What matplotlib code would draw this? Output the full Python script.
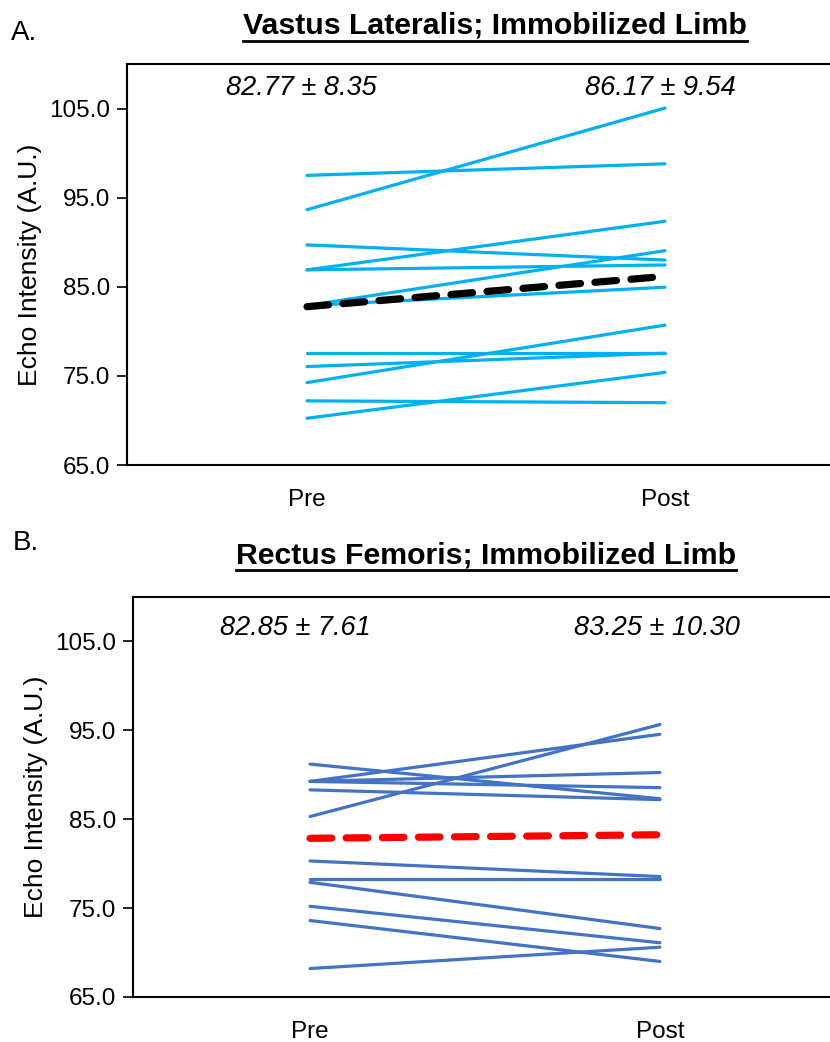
import matplotlib
matplotlib.use("Agg")
import matplotlib.pyplot as plt
from matplotlib.lines import Line2D

# ---- data ----
categories = ["Pre", "Post"]
yticks = [65.0, 75.0, 85.0, 95.0, 105.0]

vl_pre = [97.5, 93.65, 89.7, 86.9, 86.9, 82.9, 82.9, 77.55, 76.05, 74.25, 72.2, 70.25]
vl_post = [98.8, 105.05, 88.0, 92.35, 87.45, 89.05, 84.95, 77.55, 77.55, 80.7, 72.0, 75.4]
vl_mean = [82.77, 86.17]
vl_sd = [8.35, 9.54]

rf_pre = [91.2, 89.25, 89.25, 89.25, 88.3, 85.3, 80.3, 78.25, 77.9, 75.2, 73.6, 68.2]
rf_post = [87.3, 94.55, 90.25, 88.55, 87.2, 95.65, 78.55, 78.25, 72.7, 71.1, 69.0, 70.6]
rf_mean = [82.85, 83.25]
rf_sd = [7.61, 10.30]

NARROW = ["Liberation Sans Narrow", "Arial Narrow", "Liberation Sans", "DejaVu Sans"]
ARIAL = ["Liberation Sans", "DejaVu Sans"]

fig = plt.figure(figsize=(8.30, 10.42), dpi=100)


def panel(rect, xlim, pre, post, mean, sd, color, mcolor, title, letter, title_xy,
          letter_xy, ann_y, ann_dx):
    ax = fig.add_axes(rect)
    x = [0, 1]
    for a, b in zip(pre, post):
        ax.plot(x, [a, b], color=color, lw=2.3, solid_capstyle="round", zorder=2)
    ax.plot(x, mean, color=mcolor, lw=5.2, dashes=(3.0, 2.0),
            dash_capstyle="round", zorder=3)
    ax.set_xlim(*xlim)
    ax.set_ylim(65, 110)
    ax.set_yticks(yticks)
    ax.set_yticklabels([f"{v:.1f}" for v in yticks], family=ARIAL, fontsize=17.5)
    ax.set_xticks(x)
    ax.set_xticklabels(categories, family=ARIAL, fontsize=17.5)
    ax.tick_params(axis="x", length=0, pad=17)
    ax.tick_params(axis="y", length=7, width=1.2, direction="out", pad=5)
    ax.spines["right"].set_visible(False)
    for s in ("left", "bottom", "top"):
        ax.spines[s].set_linewidth(1.5)
    ax.set_ylabel("Echo Intensity (A.U.)", family=ARIAL, fontsize=19, labelpad=5)
    for i in range(2):
        ax.text(x[i] + ann_dx[i], ann_y, f"{mean[i]:.2f} \u00b1 {sd[i]:.2f}",
                ha="center", va="center", fontsize=19.5, style="italic",
                family=NARROW, transform=ax.transData)
    t = fig.text(title_xy[0], title_xy[1], title, ha="center", va="center",
                 fontsize=21.8, fontweight="bold", family=NARROW)
    fig.text(letter_xy[0], letter_xy[1], letter, ha="left", va="center",
             fontsize=20, family=NARROW)
    return ax, t


axA, tA = panel([127 / 830, 0.5537, 703 / 830, 0.3849], (-0.503, 1.461),
                vl_pre, vl_post, vl_mean, vl_sd,
                "#00B0F0", "black", "Vastus Lateralis; Immobilized Limb", "A.",
                (495 / 830, 1 - 26 / 1042), (11 / 830, 1 - 33 / 1042),
                107.3, (-0.017, -0.014))
axB, tB = panel([133 / 830, 0.0432, 697 / 830, 0.3839], (-0.506, 1.486),
                rf_pre, rf_post, rf_mean, rf_sd,
                "#4472C4", "#FF0000", "Rectus Femoris; Immobilized Limb", "B.",
                (486 / 830, 1 - 555 / 1042), (13 / 830, 1 - 543 / 1042),
                106.5, (-0.043, -0.009))

# underline the titles
fig.canvas.draw()
r = fig.canvas.get_renderer()
for t in (tA, tB):
    bb = t.get_window_extent(r).transformed(fig.transFigure.inverted())
    y = bb.y0 - 0.001
    fig.add_artist(Line2D([bb.x0, bb.x1], [y, y], transform=fig.transFigure,
                          color="black", lw=2.0))

fig.savefig("out.png", dpi=100)
